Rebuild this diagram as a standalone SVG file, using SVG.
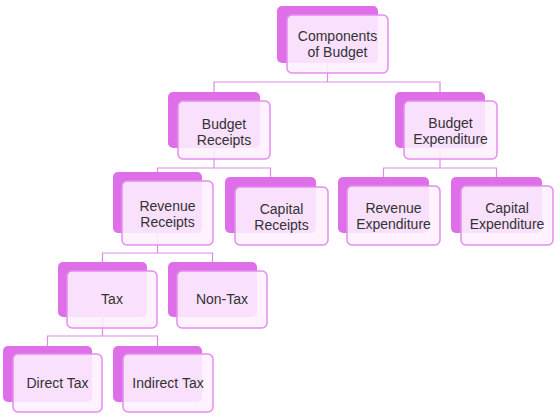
<svg xmlns="http://www.w3.org/2000/svg" width="560" height="418" viewBox="0 0 560 418">
<style>
.back{fill:#DF6FE9;}
.front{fill:#FDF0FE;fill-opacity:0.88;stroke:#E68CEE;stroke-width:1.5;}
.t{font-family:"Liberation Sans",Arial,sans-serif;font-size:14px;fill:#333;text-anchor:middle;}
.conn{fill:none;stroke:#DA8CE2;stroke-width:1.2;}
</style>
<rect width="560" height="418" fill="#fff"/>
<g id="connectors" class="conn">
<path d="M327.5,63 V82 M214,92 V82 H440 V92"/>
<path d="M214,148 V168 M157.5,172 V168 H270.5 V177"/>
<path d="M440,148 V168 M383.5,177 V168 H496.5 V177"/>
<path d="M157.5,233 V253 M102.5,262 V253 H212.5 V262"/>
<path d="M102.5,317 V336 M47.5,346 V336 H157.5 V346"/>
</g>
<g id="components-of-budget">
<rect class="back" x="277" y="6" width="101" height="57" rx="5"/>
<rect class="front" x="287" y="15" width="101" height="58" rx="5"/>
<text class="t" x="337.5" y="41">Components</text>
<text class="t" x="337.5" y="57">of Budget</text>
</g>
<g id="budget-receipts">
<rect class="back" x="168" y="92" width="92" height="56" rx="5"/>
<rect class="front" x="178" y="101" width="92" height="58" rx="5"/>
<text class="t" x="224" y="129">Budget</text>
<text class="t" x="224" y="145">Receipts</text>
</g>
<g id="budget-expenditure">
<rect class="back" x="395" y="92" width="90" height="56" rx="5"/>
<rect class="front" x="404" y="101" width="93" height="58" rx="5"/>
<text class="t" x="450.5" y="128">Budget</text>
<text class="t" x="450.5" y="144">Expenditure</text>
</g>
<g id="revenue-receipts">
<rect class="back" x="113" y="172" width="89" height="61" rx="5"/>
<rect class="front" x="122" y="181" width="91" height="64" rx="5"/>
<text class="t" x="167.5" y="211">Revenue</text>
<text class="t" x="167.5" y="227">Receipts</text>
</g>
<g id="capital-receipts">
<rect class="back" x="225" y="177" width="91" height="56" rx="5"/>
<rect class="front" x="235" y="187" width="93" height="58" rx="5"/>
<text class="t" x="281.5" y="214">Capital</text>
<text class="t" x="281.5" y="230">Receipts</text>
</g>
<g id="revenue-expenditure">
<rect class="back" x="338" y="177" width="91" height="56" rx="5"/>
<rect class="front" x="347" y="186" width="93" height="59" rx="5"/>
<text class="t" x="393.5" y="213">Revenue</text>
<text class="t" x="393.5" y="229">Expenditure</text>
</g>
<g id="capital-expenditure">
<rect class="back" x="451" y="177" width="91" height="56" rx="5"/>
<rect class="front" x="461" y="186" width="92" height="59" rx="5"/>
<text class="t" x="507" y="213">Capital</text>
<text class="t" x="507" y="229">Expenditure</text>
</g>
<g id="tax">
<rect class="back" x="58" y="262" width="89" height="55" rx="5"/>
<rect class="front" x="67" y="271" width="90" height="57" rx="5"/>
<text class="t" x="112" y="304">Tax</text>
</g>
<g id="non-tax">
<rect class="back" x="168" y="262" width="89" height="55" rx="5"/>
<rect class="front" x="177" y="271" width="90" height="57" rx="5"/>
<text class="t" x="222" y="304">Non-Tax</text>
</g>
<g id="direct-tax">
<rect class="back" x="3" y="346" width="89" height="56" rx="5"/>
<rect class="front" x="13" y="354" width="89" height="58" rx="5"/>
<text class="t" x="57.5" y="388">Direct Tax</text>
</g>
<g id="indirect-tax">
<rect class="back" x="113" y="346" width="89" height="56" rx="5"/>
<rect class="front" x="123" y="354" width="90" height="58" rx="5"/>
<text class="t" x="168" y="388">Indirect Tax</text>
</g>
</svg>
